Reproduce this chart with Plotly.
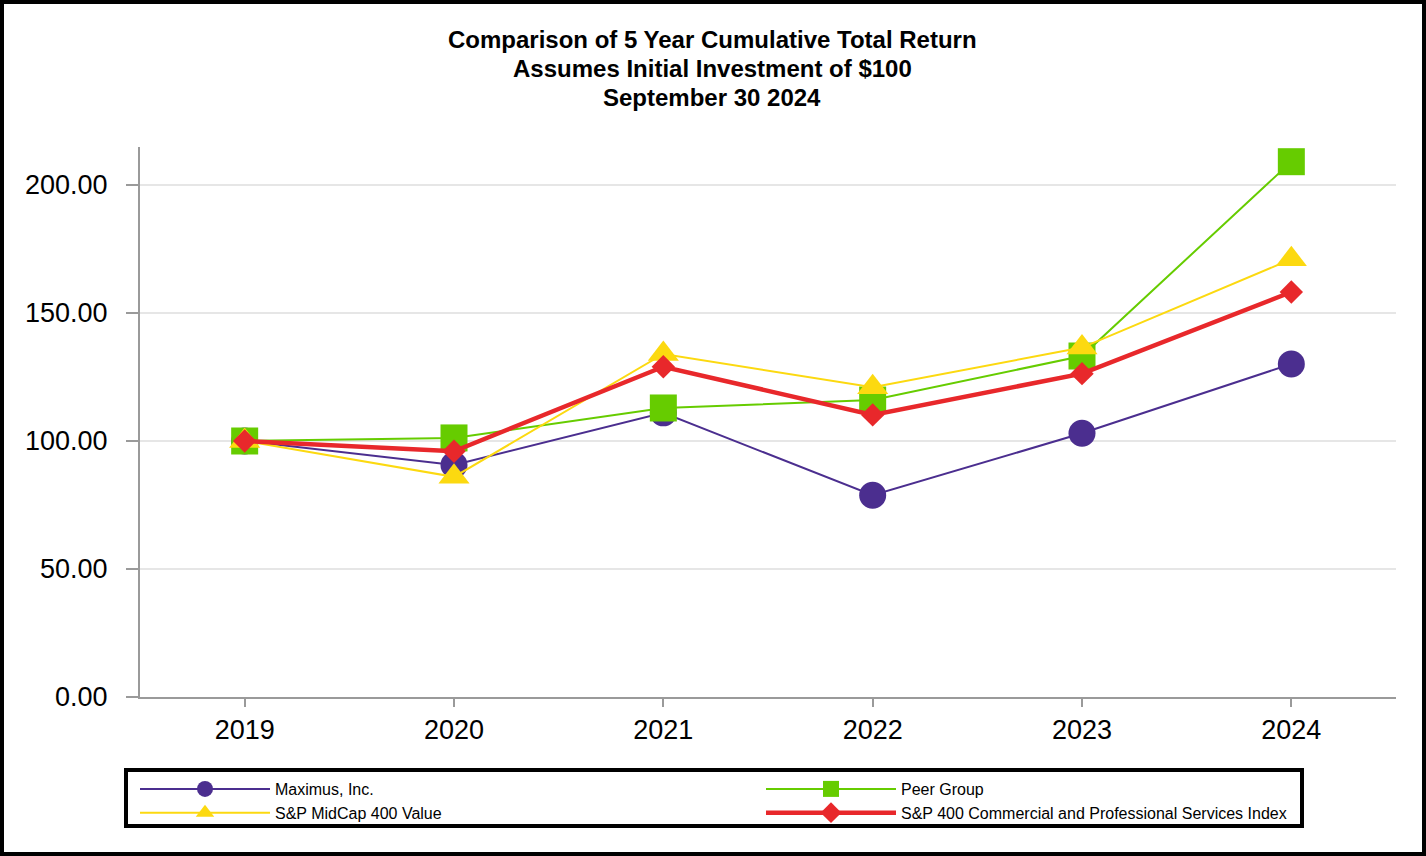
import plotly.graph_objects as go

years = ["2019", "2020", "2021", "2022", "2023", "2024"]
maximus = [100.0, 90.6, 111.0, 78.8, 103.0, 130.1]
peer_group = [100.0, 101.2, 112.9, 116.0, 133.2, 209.1]
midcap_value = [100.0, 86.0, 134.0, 121.0, 136.5, 171.0]
sp400_cps = [100.0, 96.0, 129.0, 110.2, 126.3, 158.2]
y_ticks = [0, 50, 100, 150, 200]
title_lines = ["Comparison of 5 Year Cumulative Total Return",
               "Assumes Initial Investment of $100",
               "September 30 2024"]

W, H = 1426, 856
L, R, T, B = 140, 30, 147, 159
PW, PH = W - L - R, H - T - B


def px_x(x):
    return (x - L) / PW


def px_y(y):
    return (H - B - y) / PH


fig = go.Figure()
fig.add_trace(go.Scatter(x=years, y=maximus, name="Maximus, Inc.", mode="lines+markers",
                         line=dict(color="#4B2E8F", width=2),
                         marker=dict(symbol="circle", size=27, color="#4B2E8F")))
fig.add_trace(go.Scatter(x=years, y=peer_group, name="Peer Group", mode="lines+markers",
                         line=dict(color="#66CC00", width=2),
                         marker=dict(symbol="square", size=27, color="#66CC00")))
fig.add_trace(go.Scatter(x=years, y=midcap_value, name="S&P MidCap 400 Value", mode="lines+markers",
                         line=dict(color="#FCD910", width=2),
                         marker=dict(symbol="triangle-up", size=27, color="#FCD910")))
fig.add_trace(go.Scatter(x=years, y=sp400_cps, name="S&P 400 Commercial and Professional Services Index",
                         mode="lines+markers",
                         line=dict(color="#E8282B", width=4.5),
                         marker=dict(symbol="diamond", size=18, color="#E8282B")))

font_family = "Liberation Sans, Arial, sans-serif"

annotations = []
for txt, yc in zip(title_lines, [40, 68, 97]):
    annotations.append(dict(text="<b>" + txt + "</b>", xref="paper", yref="paper",
                            x=px_x(712), y=px_y(yc), xanchor="center", yanchor="middle",
                            showarrow=False, font=dict(size=24, family=font_family, color="black")))

fig.update_layout(
    width=W, height=H,
    margin=dict(l=L, r=R, t=T, b=B),
    paper_bgcolor="white", plot_bgcolor="white",
    font=dict(family=font_family, color="black"),
    annotations=annotations,
    xaxis=dict(type="category", range=[-0.5, 5.5], showgrid=False,
               showline=True, linecolor="#9a9a9a", linewidth=2,
               ticks="outside", ticklen=8, tickcolor="#9a9a9a", tickwidth=2,
               tickfont=dict(size=27, color="black"), zeroline=False),
    yaxis=dict(range=[0, PH / 2.56], tickvals=y_ticks, tickformat=".2f",
               showgrid=True, gridcolor="#e6e6e6", gridwidth=2,
               showline=True, linecolor="#9a9a9a", linewidth=2,
               ticks="outside", ticklen=12, tickcolor="#9a9a9a", tickwidth=2,
               ticklabelstandoff=13,
               tickfont=dict(size=27, color="black"), zeroline=False),
    legend=dict(orientation="h", x=px_x(135), xanchor="left",
                y=px_y(772), yanchor="top",
                borderwidth=0, bgcolor="rgba(0,0,0,0)",
                font=dict(size=16, color="black"),
                itemwidth=130, entrywidth=481, entrywidthmode="pixels",
                traceorder="normal", itemclick=False),
    shapes=[
        dict(type="rect", xref="paper", yref="paper",
             x0=px_x(2), x1=px_x(W - 2), y0=px_y(H - 2), y1=px_y(2),
             line=dict(color="black", width=4), fillcolor="rgba(0,0,0,0)", layer="above"),
        dict(type="rect", xref="paper", yref="paper",
             x0=px_x(126), x1=px_x(1302), y0=px_y(826), y1=px_y(770),
             line=dict(color="black", width=4), fillcolor="rgba(0,0,0,0)", layer="above"),
    ],
)

fig.write_html("out.html", config={"displayModeBar": False},
               post_script="document.body.style.margin='0';document.body.style.overflow='hidden';")
